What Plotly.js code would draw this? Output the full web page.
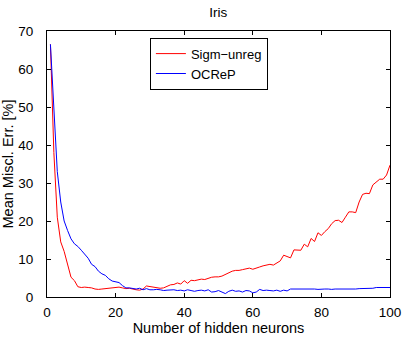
<!DOCTYPE html>
<html>
<head>
<meta charset="utf-8">
<script src="https://cdn.plot.ly/plotly-3.0.1.min.js"></script>
<style>
  html, body { margin: 0; padding: 0; background: #fff; }
  #chart_div { width: 407px; height: 337px; }
</style>
</head>
<body>
<div id="chart_div"></div>
<script>
// number of hidden neurons, 1..100
var neurons = [];
for (var n = 1; n <= 100; n++) neurons.push(n);

// mean misclassification error [%]
var sigm_unreg = [
    66.5, 38.0, 21.0, 14.5, 12.0, 8.5, 5.2, 4.3, 2.7, 2.5,
    2.6, 2.5, 2.4, 2.1, 2.0, 2.1, 2.2, 2.2, 2.3, 2.4,
    2.6, 2.4, 2.2, 2.3, 2.0, 1.9, 1.8, 2.1, 2.9, 2.7,
    2.6, 2.5, 2.3, 2.4, 2.8, 3.2, 3.3, 3.7, 3.4, 4.3,
    3.6, 4.4, 4.3, 4.6, 4.7, 4.6, 5.0, 5.2, 5.3, 5.3,
    5.5, 6.0, 6.5, 6.8, 7.0, 7.0, 7.2, 7.5, 7.6, 7.3,
    7.5, 7.9, 8.2, 8.5, 8.6, 8.4, 9.0, 9.5, 11.0, 10.6,
    10.3, 12.4, 12.4, 12.3, 13.9, 13.2, 15.4, 14.6, 16.9, 16.2,
    17.2, 18.0, 19.3, 20.1, 20.2, 19.6, 21.0, 22.4, 22.4, 22.2,
    25.0, 27.0, 27.3, 27.2, 29.5, 30.3, 31.0, 31.0, 32.1, 34.7
];

var ocrep = [
    66.5, 50.0, 33.0, 25.0, 20.0, 17.5, 15.3, 14.0, 13.3, 12.3,
    11.2, 10.2, 8.6, 8.0, 6.8, 6.1, 5.7, 4.8, 4.2, 4.0,
    3.8, 3.0, 2.4, 2.4, 2.3, 2.1, 2.3, 1.9, 2.2, 1.9,
    1.9, 2.0, 1.9, 1.7, 1.8, 1.8, 1.9, 1.7, 1.8, 1.6,
    1.9, 1.7, 1.5, 1.7, 1.8, 1.6, 1.9, 1.3, 1.4, 1.7,
    1.4, 0.9, 1.5, 1.8, 1.5, 1.6, 1.3, 1.7, 1.6, 1.1,
    1.3, 2.0, 1.7, 1.8, 1.7, 1.6, 1.8, 1.5, 1.8, 1.6,
    2.1, 2.1, 2.2, 2.1, 2.1, 2.2, 2.1, 2.1, 2.0, 2.1,
    2.1, 2.1, 2.0, 2.1, 2.1, 2.1, 2.1, 2.0, 2.1, 2.1,
    2.2, 2.2, 2.2, 2.2, 2.3, 2.5, 2.5, 2.5, 2.5, 2.5
];

var x_ticks = [0, 20, 40, 60, 80, 100];
var y_ticks = [0, 10, 20, 30, 40, 50, 60, 70];

var font_family = 'Liberation Sans, Arial, Helvetica, sans-serif';

function create_line(y_list, name, color)
{
    return {
        x: neurons,
        y: y_list,
        mode: 'lines',
        name: name,
        line: {
            color: color,
            width: 1
        }
    };
}

function create_axis(title, range, ticks, label_gap, title_gap)
{
    return {
        title: {text: title, font: {size: 14.5, color: '#000'}, standoff: title_gap},
        range: range,
        tickvals: ticks,
        ticks: 'inside',
        ticklen: 4,
        tickcolor: '#000',
        tickfont: {size: 13.5, color: '#000'},
        ticklabelstandoff: label_gap,
        showline: true,
        linecolor: '#000',
        linewidth: 1,
        mirror: 'allticks',
        showgrid: false,
        zeroline: false
    };
}

var traces = [
    create_line(sigm_unreg, 'Sigm\u2212unreg', 'rgb(255, 0, 0)'),
    create_line(ocrep, 'OCReP', 'rgb(0, 0, 255)')
];

var layout = {
    width: 407,
    height: 337,
    margin: {l: 47, r: 17, t: 31, b: 40},
    paper_bgcolor: '#fff',
    plot_bgcolor: '#fff',
    font: {family: font_family, color: '#000'},
    title: {
        text: 'Iris',
        font: {size: 13.5, color: '#000'},
        x: 0.536,
        xanchor: 'center',
        y: 0.965,
        yanchor: 'middle'
    },
    xaxis: create_axis('Number of hidden neurons', [0, 100], x_ticks, 3, 2),
    yaxis: create_axis('Mean Miscl. Err. [%]', [0, 70], y_ticks, 10, 6),
    showlegend: true,
    legend: {
        x: 0.30,
        y: 0.975,
        xanchor: 'left',
        yanchor: 'top',
        bgcolor: '#fff',
        bordercolor: '#000',
        borderwidth: 1,
        font: {size: 13, color: '#000'}
    }
};

Plotly.newPlot('chart_div', traces, layout, {displayModeBar: false, staticPlot: true});
</script>
</body>
</html>
